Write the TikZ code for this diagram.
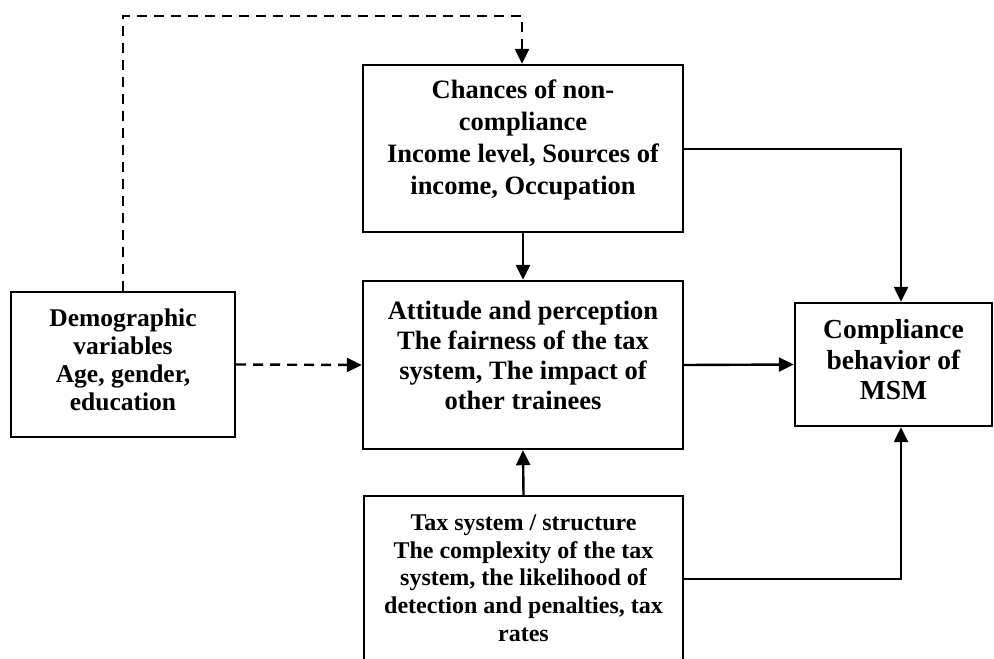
\documentclass[tikz,border=0pt]{standalone}
\usepackage{fontspec}
\setmainfont{Liberation Serif}
\usetikzlibrary{arrows.meta,calc}
\begin{document}
\begin{tikzpicture}[x=1pt,y=-1pt,
  boxstyle/.style={draw=black,line width=2.4pt,rectangle,inner sep=0pt},
  txt/.style={align=center,inner sep=0pt,font=\bfseries},
  conn/.style={line width=2.4pt,-{Triangle[length=15pt,width=14pt]}},
  dashconn/.style={line width=2.4pt,dash pattern=on 10pt off 7pt,-{Triangle[length=15pt,width=14pt]}}
]
\clip (0,0) rectangle (994,659);
\fill[white] (0,0) rectangle (994,659);
% boxes
\node[boxstyle,minimum width=320pt,minimum height=167pt] (top) at (523,148.5) {};
\node[boxstyle,minimum width=320pt,minimum height=168pt] (mid) at (523,365) {};
\node[boxstyle,minimum width=319pt,minimum height=190pt] (bot) at (523.5,591) {};
\node[boxstyle,minimum width=224pt,minimum height=145pt] (left) at (123,364.5) {};
\node[boxstyle,minimum width=197pt,minimum height=123pt] (right) at (893.5,364.5) {};
% texts
\node[txt,font=\bfseries\fontsize{26.5}{32.3}\selectfont] (toptxt) at (523,140) {Chances of non-\\compliance\\Income level, Sources of\\income, Occupation};
\node[txt,font=\bfseries\fontsize{26.5}{30}\selectfont] (midtxt) at (523,355) {Attitude and perception\\The fairness of the tax\\system, The impact of\\other trainees};
\node[txt,font=\bfseries\fontsize{24}{27.7}\selectfont] (bottxt) at (523.5,578) {Tax system / structure\\The complexity of the tax\\system, the likelihood of\\detection and penalties, tax\\rates};
\node[txt,font=\bfseries\fontsize{25.5}{28}\selectfont] (lefttxt) at (123,360) {Demographic\\variables\\Age, gender,\\education};
\node[txt,font=\bfseries\fontsize{27.5}{30.5}\selectfont] (righttxt) at (893.5,360) {Compliance\\behavior of\\MSM};
% connectors
\coordinate (dtop) at (123,16);
\coordinate (dright) at (522,16);
\draw[dashconn] (left.north) -- (dtop) -- (dright) -- (dright |- top.north);
\draw[dashconn] (left.east) -- (mid.west);
\draw[conn] (top.south) -- (mid.north);
\draw[conn] (bot.north) -- (mid.south);
\draw[conn] (mid.east) -- (right.west);
\coordinate (rtop) at ($(right.north)+(7.5,0)$);
\coordinate (rbot) at ($(right.south)+(7.5,0)$);
\draw[conn] (top.east |- 0,149) -| (rtop);
\draw[conn] (bot.east |- 0,579) -| (rbot);
\end{tikzpicture}
\end{document}
